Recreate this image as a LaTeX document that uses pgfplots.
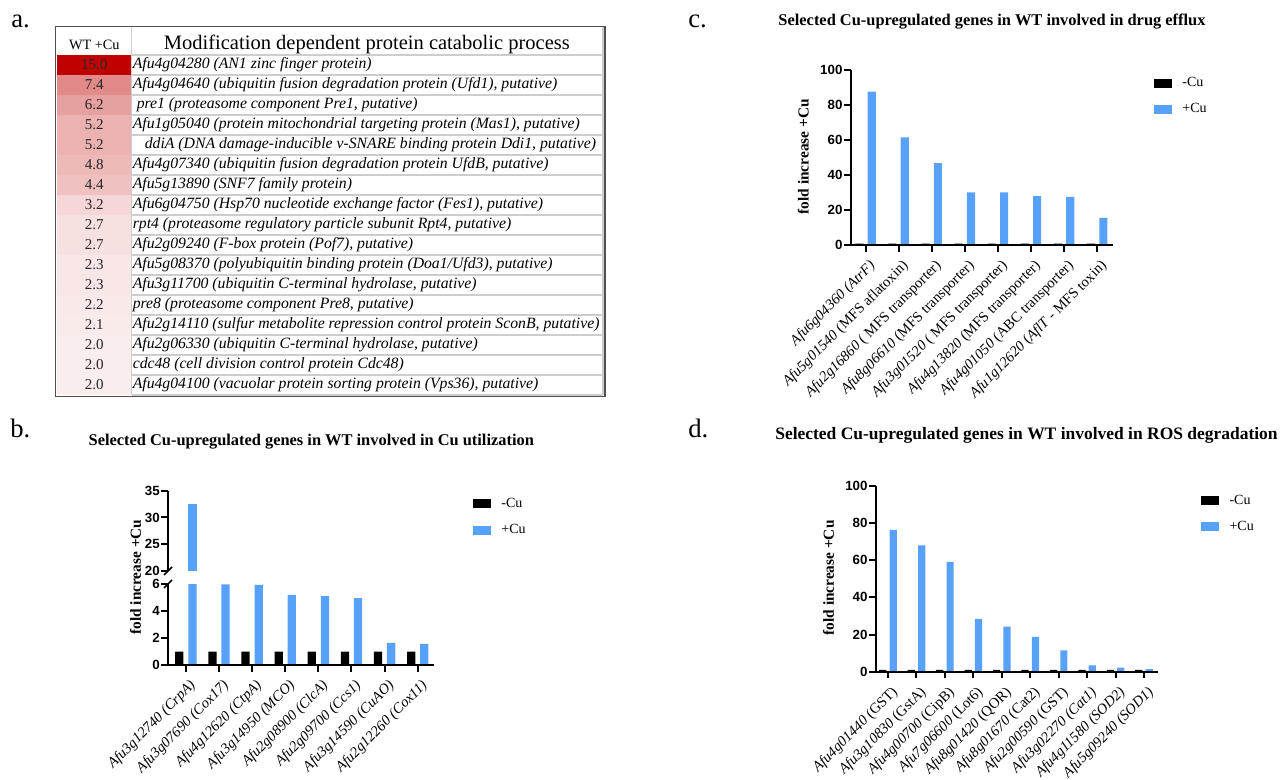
\documentclass[border=0pt]{standalone}
\usepackage{pgfplots}
\pgfplotsset{compat=1.18}
\usepackage{pgfplotstable}
\usepackage{fontspec}
\setmainfont{Liberation Serif}
\newfontfamily\sansf{Liberation Sans}

\definecolor{cublue}{RGB}{88,161,248}
\definecolor{gridgray}{RGB}{205,205,205}
\definecolor{bordergray}{RGB}{80,80,80}

\pgfplotstableread{
x y v
0.5 0.5 15.0
0.5 1.5 7.4
0.5 2.5 6.2
0.5 3.5 5.2
0.5 4.5 5.2
0.5 5.5 4.8
0.5 6.5 4.4
0.5 7.5 3.2
0.5 8.5 2.7
0.5 9.5 2.7
0.5 10.5 2.3
0.5 11.5 2.3
0.5 12.5 2.2
0.5 13.5 2.1
0.5 14.5 2.0
0.5 15.5 2.0
0.5 16.5 2.0
}\heat

\pgfplotstableread{
x m p
0 1 32.6
1 1 6.0
2 1 5.95
3 1 5.22
4 1 5.12
5 1 4.98
6 1 1.65
7 1 1.58
}\dataB

\pgfplotstableread{
x m p
0 1 87.6
1 1 61.6
2 1 46.8
3 1 30.2
4 1 30.2
5 1 28.1
6 1 27.6
7 1 15.6
}\dataC

\pgfplotstableread{
x m p
0 1 76.3
1 1 68.0
2 1 59.1
3 1 28.4
4 1 24.2
5 1 18.7
6 1 11.5
7 1 3.4
8 1 2.2
9 1 1.4
}\dataD

\pgfplotsset{
  legsq/.style={legend image code/.code={\fill[##1] (0pt,-3.375pt) rectangle (14pt,3.375pt);}},
  prism/.style={
    scale only axis, axis on top, clip=true,
    axis x line*=bottom, axis y line*=left,
    axis line style={-, line width=1.5pt},
    every outer x axis line/.append style={-},
    every outer y axis line/.append style={-},
    tick align=outside, major tick length=5pt,
    tick style={line width=1.5pt, black},
    /pgf/number format/assume math mode=true,
    yticklabel style={font=\sansf\bfseries\fontsize{10}{11}\selectfont, inner xsep=1pt},
    xticklabel style={font=\fontsize{11}{12}\selectfont, inner sep=0pt, xshift=2pt, yshift=-5pt, rotate=45, anchor=north east},
    ylabel={fold increase +Cu},
    ylabel style={font=\bfseries\fontsize{11.5}{13}\selectfont, anchor=center},
    legend cell align=left,
    legend style={draw=none, fill=none, anchor=north west, inner sep=0pt, nodes={inner sep=0pt}, row sep=11.1pt, column sep=7.6pt, font=\fontsize{10.5}{12}\selectfont},
  },
}

\begin{document}
\begin{tikzpicture}[x=0.75pt,y=0.75pt]
\path[use as bounding box] (0,0) rectangle (1285,780);
\coordinate (pa) at (57.3,{780-395});
\coordinate (pbu) at (168,{780-571});
\coordinate (pbl) at (168,{780-665});
\coordinate (pc) at (850.7,{780-245.3});
\coordinate (pd) at (875.8,{780-671.7});

% ---------------- panel a ----------------
\begin{axis}[
  at={(pa)}, anchor=south west, scale only axis,
  width=55.4pt, height=255pt,
  xmin=0, xmax=1, ymin=0, ymax=17, y dir=reverse,
  axis line style={draw=none}, tick style={draw=none},
  major tick length=0pt,
  xtick=\empty,
  ytick={0.5,1.5,...,16.5},
  yticklabel pos=right,
  yticklabels={
    {Afu4g04280 (AN1 zinc finger protein)},
    {Afu4g04640 (ubiquitin fusion degradation protein (Ufd1), putative)},
    {\hspace*{3pt}pre1 (proteasome component Pre1, putative)},
    {Afu1g05040 (protein mitochondrial targeting protein (Mas1), putative)},
    {\hspace*{9pt}ddiA (DNA damage-inducible v-SNARE binding protein Ddi1, putative)},
    {Afu4g07340 (ubiquitin fusion degradation protein UfdB, putative)},
    {Afu5g13890 (SNF7 family protein)},
    {Afu6g04750 (Hsp70 nucleotide exchange factor (Fes1), putative)},
    {rpt4 (proteasome regulatory particle subunit Rpt4, putative)},
    {Afu2g09240 (F-box protein (Pof7), putative)},
    {Afu5g08370 (polyubiquitin binding protein (Doa1/Ufd3), putative)},
    {Afu3g11700 (ubiquitin C-terminal hydrolase, putative)},
    {pre8 (proteasome component Pre8, putative)},
    {Afu2g14110 (sulfur metabolite repression control protein SconB, putative)},
    {Afu2g06330 (ubiquitin C-terminal hydrolase, putative)},
    {cdc48 (cell division control protein Cdc48)},
    {Afu4g04100 (vacuolar protein sorting protein (Vps36), putative)}},
  yticklabel style={anchor=west, inner xsep=1pt, font=\itshape\fontsize{11.8}{13}\selectfont},
  colormap={heat}{rgb255(0cm)=(255,255,255); rgb255(1cm)=(192,0,0)},
  point meta min=1, point meta max=15,
  /pgf/number format/assume math mode=true,
  clip=false,
]
\addplot[scatter, only marks, mark=square*, mark size=7.2pt,
  mark options={xscale=3.82},
  scatter/use mapped color={draw=mapped color, fill=mapped color},
  point meta=explicit]
  table[x=x, y=y, meta=v] {\heat};
\addplot[only marks, mark=*, mark size=0.01pt, mark options={draw=none, fill=none},
  point meta=explicit,
  nodes near coords={\pgfmathprintnumber[fixed,fixed zerofill,precision=1]{\pgfplotspointmeta}},
  nodes near coords align=center,
  every node near coord/.append style={text=black!85, font=\fontsize{11.3}{12}\selectfont}]
  table[x=x, y=y, meta=v] {\heat};
\end{axis}
% table grid
\foreach \k in {0,...,17} \draw[gridgray, line width=0.8pt] (131.5,{780-55-20*\k}) -- (603,{780-55-20*\k});
\draw[gridgray, line width=0.8pt] (131.5,{780-27}) -- (131.5,{780-395});
\draw[gridgray, line width=0.8pt] (603,{780-27}) -- (603,{780-395});
\draw[bordergray, line width=1.2pt] (55.3,{780-26.7}) rectangle (604.7,{780-396.7});
\node[anchor=base, font=\fontsize{10.7}{12}\selectfont, inner sep=0pt] at (94.3,{780-49.5}) {WT +Cu};
\node[anchor=base, font=\fontsize{15.4}{17}\selectfont, inner sep=0pt] at (366.8,{780-49.5}) {Modification dependent protein catabolic process};

% ---------------- panel b ----------------
\begin{axis}[prism,
  at={(pbu)}, anchor=south west, width=199.2pt, height=60.2pt,
  xmin=-0.54, xmax=7.48, ymin=20, ymax=35, ytick={20,25,30,35},
  axis x line=none, xtick=\empty, ylabel={}]
\addplot[ybar, bar width=6.2pt, bar shift=4.9pt, fill=cublue, draw=none,
  restrict y to domain=20:40] table[x=x,y=p] {\dataB};
\end{axis}
\begin{axis}[prism,
  at={(pbl)}, anchor=south west, width=199.2pt, height=60.5pt,
  xmin=-0.54, xmax=7.48, ymin=0, ymax=6, ytick={0,2,4,6}, xtick={0,...,7},
  xticklabels={{\textit{Afu3g12740 (CrpA)}},{\textit{Afu3g07690 (Cox17)}},{\textit{Afu4g12620 (CtpA)}},{\textit{Afu3g14950 (MCO)}},{\textit{Afu2g08900 (ClcA)}},{\textit{Afu2g09700 (Ccs1)}},{\textit{Afu3g14590 (CuAO)}},{\textit{Afu2g12260 (Cox11)}}},
  ylabel style={at={(axis description cs:-0.122,1.09)}},
  legend style={at={(axis description cs:1.146,2.069)}}]
\addplot[ybar, bar width=6.2pt, bar shift=-4.9pt, fill=black, draw=none, legsq] table[x=x,y=m] {\dataB};
\addplot[ybar, bar width=6.2pt, bar shift=4.9pt, fill=cublue, draw=none, legsq] table[x=x,y=p] {\dataB};
\legend{-Cu,+Cu}
\end{axis}
\draw[line width=1.2pt] (164,{780-575}) -- (172,{780-567});
\draw[line width=1.2pt] (164,{780-588}) -- (172,{780-580});

% ---------------- panel c ----------------
\begin{axis}[prism,
  at={(pc)}, anchor=south west, width=197pt, height=131.5pt,
  xmin=-0.447, xmax=7.49, ymin=0, ymax=100, ytick={0,20,...,100}, xtick={0,...,7},
  xticklabels={{\textit{Afu6g04360 (AtrF)}},{\textit{Afu5g01540} (MFS aflatoxin)},{\textit{Afu2g16860} ( MFS transporter)},{\textit{Afu8g06610} (MFS transporter)},{\textit{Afu3g01520} ( MFS transporter)},{\textit{Afu4g13820} (MFS transporter)},{\textit{Afu4g01050} (ABC transporter)},{\textit{Afu1g12620} (\textit{AflT} - MFS toxin)}},
  ylabel style={at={(axis description cs:-0.18,0.505)}},
  legend style={at={(axis description cs:1.152,0.958)}}]
\addplot[ybar, bar width=6.1pt, bar shift=-4.65pt, fill=black, draw=none, legsq] table[x=x,y=m] {\dataC};
\addplot[ybar, bar width=6.1pt, bar shift=4.65pt, fill=cublue, draw=none, legsq] table[x=x,y=p] {\dataC};
\legend{-Cu,+Cu}
\end{axis}

% ---------------- panel d ----------------
\begin{axis}[prism,
  at={(pd)}, anchor=south west, width=211.4pt, height=139.3pt,
  xmin=-0.43, xmax=9.48, ymin=0, ymax=100, ytick={0,20,...,100}, xtick={0,...,9},
  xticklabels={{\textit{Afu4g01440} (GST)},{\textit{Afu3g10830} (GstA)},{\textit{Afu4g00700} (CipB)},{\textit{Afu7g06600} (Lot6)},{\textit{Afu8g01420} (QOR)},{\textit{Afu8g01670} (Cat2)},{\textit{Afu2g00590} (GST)},{\textit{Afu3g02270 (Cat1)}},{\textit{Afu4g11580 (SOD2)}},{\textit{Afu5g09240 (SOD1)}}},
  ylabel style={at={(axis description cs:-0.168,0.505)}},
  legend style={at={(axis description cs:1.152,0.953)}}]
\addplot[ybar, bar width=5.4pt, bar shift=-3.9pt, fill=black, draw=none, legsq] table[x=x,y=m] {\dataD};
\addplot[ybar, bar width=5.4pt, bar shift=3.9pt, fill=cublue, draw=none, legsq] table[x=x,y=p] {\dataD};
\legend{-Cu,+Cu}
\end{axis}

% titles and panel letters
\node[font=\bfseries\fontsize{12.3}{14}\selectfont] at (311.3,{780-441.7}) {Selected Cu-upregulated genes in WT involved in Cu utilization};
\node[font=\bfseries\fontsize{12.3}{14}\selectfont] at (992,{780-21.7}) {Selected Cu-upregulated genes in WT involved in drug efflux};
\node[font=\bfseries\fontsize{13.1}{15}\selectfont] at (1026.5,{780-435}) {Selected Cu-upregulated genes in WT involved in ROS degradation};
\node[anchor=base west, inner sep=0pt, font=\fontsize{20}{22}\selectfont] at (11,{780-28}) {a.};
\node[anchor=base west, inner sep=0pt, font=\fontsize{20}{22}\selectfont] at (10,{780-438}) {b.};
\node[anchor=base west, inner sep=0pt, font=\fontsize{20}{22}\selectfont] at (688,{780-28}) {c.};
\node[anchor=base west, inner sep=0pt, font=\fontsize{20}{22}\selectfont] at (688,{780-438}) {d.};
\end{tikzpicture}
\end{document}
